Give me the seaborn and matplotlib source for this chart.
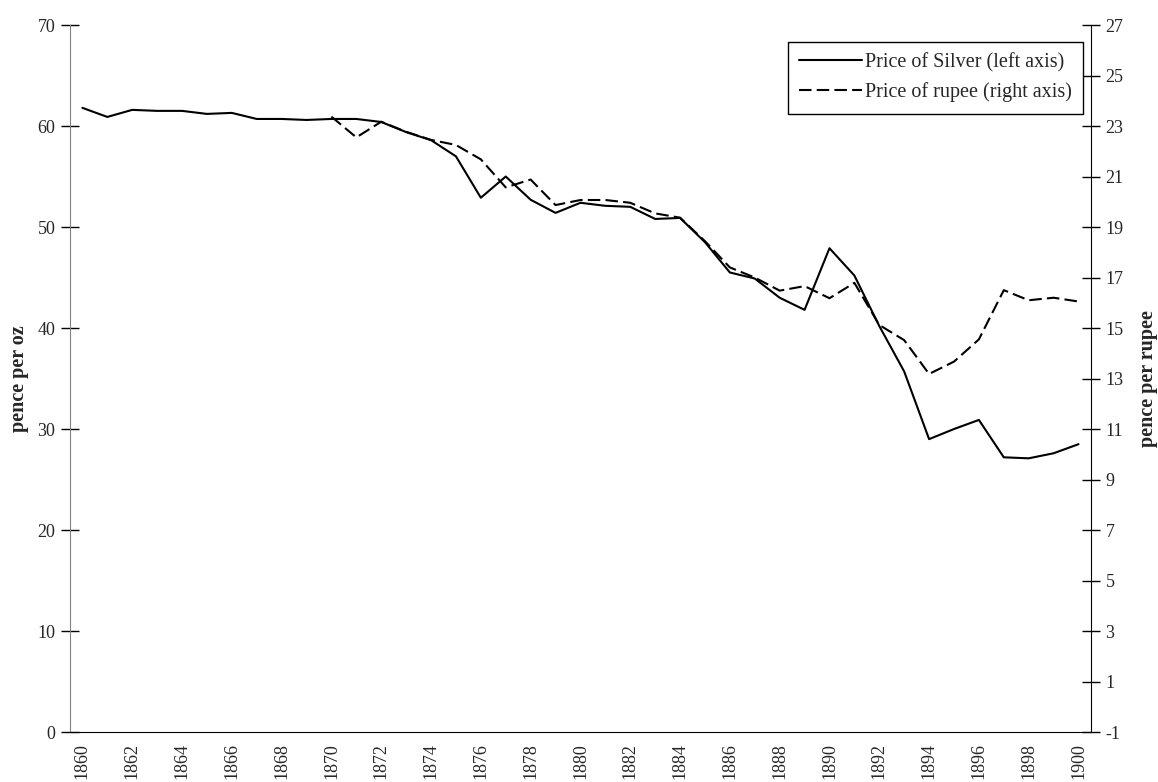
import matplotlib
matplotlib.use("Agg")
import matplotlib.pyplot as plt
from matplotlib.lines import Line2D
import numpy as np
import pandas as pd
import seaborn as sns

# Data
years = list(range(1860, 1901))
silver_price = [61.8, 60.9, 61.6, 61.5, 61.5, 61.2, 61.3, 60.7, 60.7, 60.6,
                60.7, 60.7, 60.4, 59.4, 58.6, 57.0, 52.9, 55.0, 52.7, 51.4,
                52.4, 52.1, 52.0, 50.8, 50.9, 48.5, 45.5, 44.9, 43.0, 41.8,
                47.9, 45.2, 40.2, 35.7, 29.0, 30.0, 30.9, 27.2, 27.1, 27.6,
                28.5]
rupee_years = list(range(1870, 1901))
rupee_price = [23.37, 22.55, 23.17, 22.77, 22.45, 22.25, 21.68, 20.57, 20.88, 19.87,
               20.07, 20.07, 19.96, 19.54, 19.37, 18.44, 17.40, 17.00, 16.48, 16.66,
               16.18, 16.79, 15.12, 14.52, 13.18, 13.67, 14.55, 16.50, 16.10, 16.20,
               16.05]

silver_df = pd.DataFrame({"year": years, "price": silver_price})
rupee_df = pd.DataFrame({"year": rupee_years, "price": rupee_price})

sns.set_style("white")
plt.rcParams["font.family"] = ["Liberation Serif", "DejaVu Serif"]
plt.rcParams["axes.unicode_minus"] = False

fig = plt.figure(figsize=(11.58, 7.82), dpi=100)
ax = fig.add_axes([0.0604, 0.0639, 0.8817, 0.9041])
ax2 = ax.twinx()

dash = (0, (6, 2.5))
sns.lineplot(data=silver_df, x="year", y="price", ax=ax, color="black",
             linewidth=1.5, legend=False)
sns.lineplot(data=rupee_df, x="year", y="price", ax=ax2, color="black",
             linewidth=1.5, linestyle=dash, legend=False)

# x axis: category-style, ticks between years, labels every 2 years
ax.set_xlim(1859.5, 1900.5)
ax.set_xticks(np.arange(1859.5, 1901, 1.0))
ax.set_xticklabels([])
ax.set_xticks(years[::2], minor=True)
ax.set_xticklabels([str(y) for y in years[::2]], minor=True, rotation=90,
                   fontsize=13)
ax.tick_params(axis="x", which="major", direction="out", length=7,
               width=1, color="black")
ax.tick_params(axis="x", which="minor", length=0, pad=8)

ax.set_ylim(0, 70)
ax.set_yticks(range(0, 71, 10))
ax.tick_params(axis="y", direction="inout", length=13, width=1,
               color="black", labelsize=13, pad=4)
ax.set_ylabel("pence per oz", fontsize=14.5, fontweight="bold", labelpad=6)
ax.set_xlabel("")

ax2.set_ylim(-1, 27)
ax2.set_yticks(range(-1, 28, 2))
ax2.tick_params(axis="y", direction="inout", length=13, width=1,
                color="black", labelsize=13, pad=4)
ax2.set_ylabel("pence per rupee", fontsize=14.5, fontweight="bold", labelpad=10)
ax2.set_xlabel("")

for a in (ax, ax2):
    a.spines["top"].set_visible(False)
    a.grid(False)
ax.spines["left"].set_color("#808080")
ax.spines["bottom"].set_color("black")
ax2.spines["right"].set_color("black")
ax2.spines["left"].set_visible(False)
ax2.spines["bottom"].set_visible(False)
ax.spines["right"].set_visible(False)

handles = [Line2D([], [], color="black", linewidth=1.5),
           Line2D([], [], color="black", linewidth=1.5, linestyle=dash)]
leg = ax2.legend(handles, ["Price of Silver (left axis)", "Price of rupee (right axis)"],
                 loc="upper right", bbox_to_anchor=(0.992, 0.976),
                 borderaxespad=0, fontsize=14.5, handlelength=3.1,
                 handletextpad=0.15, frameon=True, fancybox=False,
                 edgecolor="black", framealpha=1, borderpad=0.55,
                 labelspacing=0.5)
leg.get_frame().set_linewidth(1)

fig.savefig("out.png", dpi=100)
